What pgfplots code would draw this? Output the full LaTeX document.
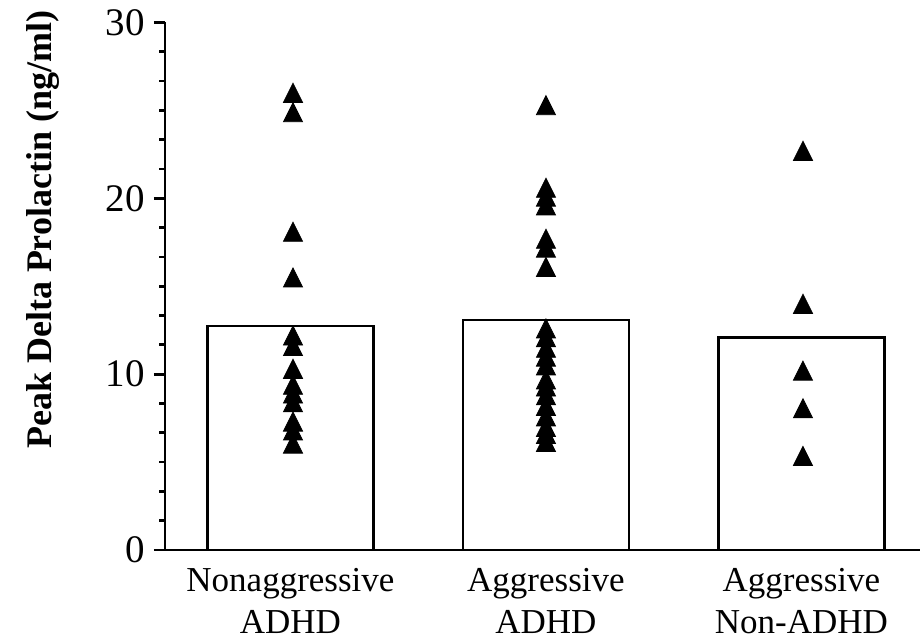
\documentclass[border=0pt]{standalone}
\usepackage{fontspec}
\setmainfont{Liberation Serif}
\usepackage{pgfplots}
\pgfplotsset{compat=1.18}
\begin{document}
\begin{tikzpicture}
\begin{axis}[
  at={(82.5pt,45.5pt)}, anchor=south west,
  scale only axis, width=377.5pt, height=263.75pt,
  xmin=-0.491, xmax=2.464, ymin=0, ymax=30,
  axis x line=bottom, axis y line=left,
  axis line style={-, line width=1.4pt, black},
  xtick={0,1,2},
  xticklabels={Nonaggressive\\ADHD, Aggressive\\ADHD, Aggressive\\Non-ADHD},
  xticklabel style={align=center, font=\fontsize{17.5}{21}\selectfont, yshift=-2.5pt, inner sep=1pt},
  major x tick style={draw=none},
  ytick={0,10,20,30}, minor y tick num=5,
  tick align=outside,
  major tick length=5.5pt, minor tick length=2.8pt,
  y tick style={line width=1.4pt, black},
  yticklabel style={font=\fontsize{19.5}{22}\selectfont, xshift=-1pt},
  /pgf/number format/assume math mode=true,
  ylabel={\textbf{Peak Delta Prolactin (ng/ml)}},
  ylabel style={font=\fontsize{18}{22}\selectfont, at={(axis description cs:-0.139,0.607)}, anchor=south, inner sep=0pt},
  clip=false,
]
\addplot[ybar, bar width=83pt, bar shift=0pt, fill=white, draw=black, line width=1.3pt]
  coordinates {(0,12.74) (1,13.08) (2,12.1)};
\addplot[only marks, mark=triangle*, mark size=5.5pt,
  mark options={yshift=-1.6pt, yscale=1.155, fill=black, draw=black}]
  coordinates {
  (0.01,26.0) (0.01,24.9) (0.01,18.1) (0.01,15.5) (0.01,12.2) (0.01,11.6)
  (0.01,10.3) (0.01,9.4) (0.01,8.9) (0.01,8.4) (0.01,7.3) (0.01,6.8) (0.01,6.05)
  };
\addplot[only marks, mark=triangle*, mark size=5.5pt,
  mark options={yshift=-1.6pt, yscale=1.155, fill=black, draw=black}]
  coordinates {
  (1,25.3) (1,20.6) (1,20.1) (1,19.6) (1,17.7) (1,17.2) (1,16.1)
  (1,12.6) (1,12.1) (1,11.5) (1,11.0) (1,10.5) (1,9.7) (1,9.3) (1,8.8)
  (1,8.2) (1,7.6) (1,7.0) (1,6.6) (1,6.15)
  };
\addplot[only marks, mark=triangle*, mark size=5.5pt,
  mark options={yshift=-1.6pt, yscale=1.155, fill=black, draw=black}]
  coordinates {
  (2.006,22.7) (2.006,14.0) (2.006,10.2) (2.006,8.06) (2.006,5.35)
  };
\end{axis}
\pgfresetboundingbox
\path[use as bounding box] (0,0) rectangle (461pt,320.5pt);
\end{tikzpicture}
\end{document}
